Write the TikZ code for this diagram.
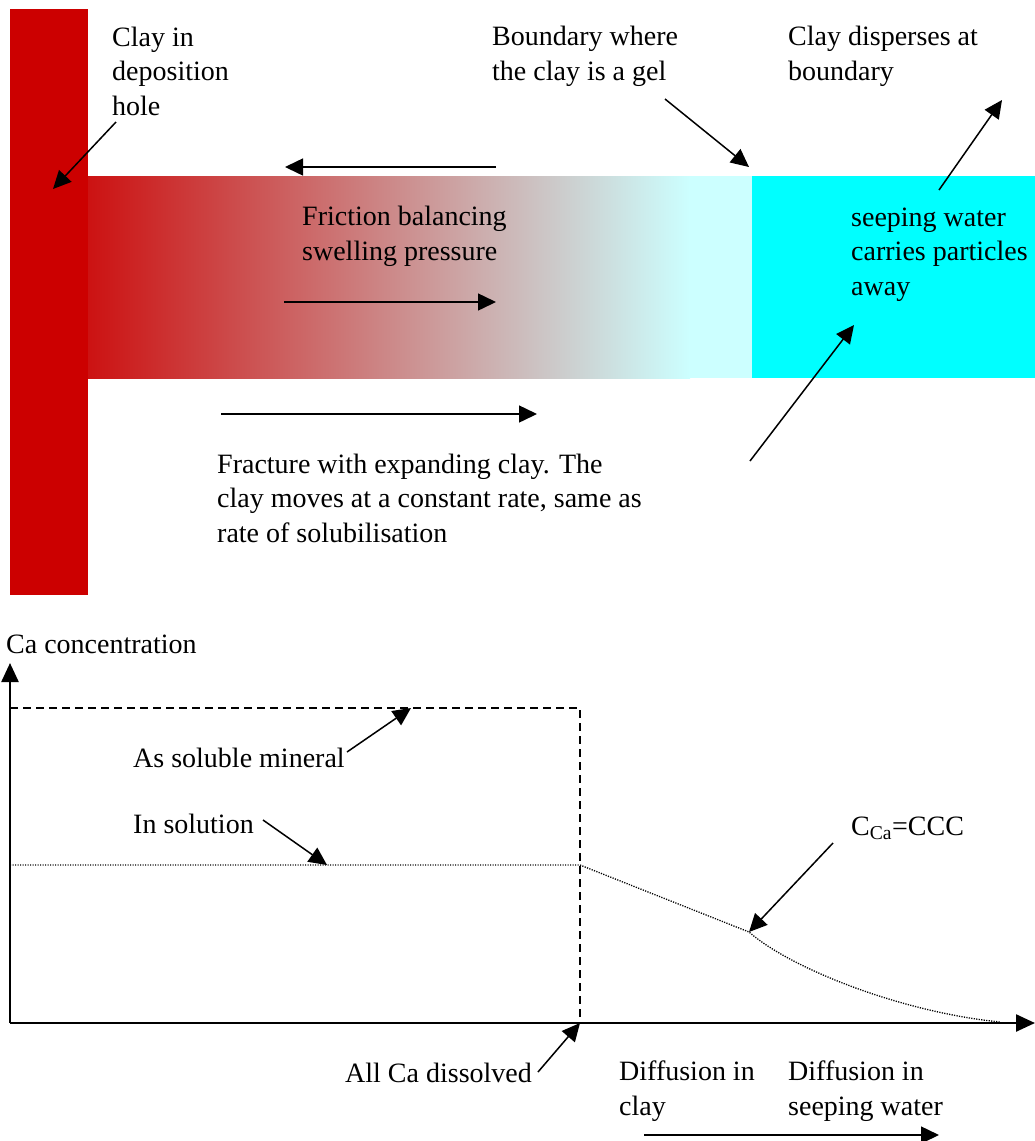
\documentclass[tikz,border=0pt]{standalone}
\usepackage{fontspec}
\setmainfont{Liberation Serif}
\usetikzlibrary{arrows.meta}

\definecolor{clayred}{RGB}{204,0,0}
\definecolor{bandred}{RGB}{204,18,18}
\definecolor{gelcyan}{RGB}{204,255,255}
\definecolor{water}{RGB}{0,255,255}

\begin{document}
\begin{tikzpicture} [ x=1pt, y=-1pt,
		      % base of a node = baseline of its last line
		      every node/.style={inner sep=0pt, anchor=base west, align=left,
		                         font=\fontsize{28}{34.5}\selectfont},
		      pointer/.style={-{Triangle[length=18pt,width=17pt]}, line width=1.5pt},
		      axis/.style={-{Triangle[length=19pt,width=17pt]}, line width=2.4pt},
		      mineral/.style={dash pattern=on 8pt off 5pt, line width=1.3pt},
%		      solution/.style={densely dotted},
		      solution/.style={dash pattern=on 1.2pt off 1.3pt, line width=1.3pt}
		    ]
  \useasboundingbox (0,0) rectangle (1035,1141);

  % deposition hole and fracture
  \fill[clayred] (10,9) rectangle (88,595);
  \shade[left color=bandred, right color=gelcyan] (88,176) rectangle (690,378);
  \fill[gelcyan] (690,176) rectangle (752,378);
  \fill[water] (752,176) rectangle (1035,378);

  \node (hole) at (112,115) {Clay in\\deposition\\hole};
  \node (gel) at (492,80) {Boundary where\\the clay is a gel};
  \node (disp) at (788,80) {Clay disperses at\\boundary};
  \node (fric) at (302,260) {Friction balancing\\swelling pressure};
  \node (seep) at (851,295) {seeping water\\carries particles\\away};
  \node (frac) at (217,542) {Fracture with expanding clay. The\\clay moves at a constant rate, same as\\rate of solubilisation};

  \coordinate (h1) at (116,122);   \coordinate (h2) at (53,189);
  \coordinate (fl1) at (496,167);  \coordinate (fl2) at (285,167);
  \coordinate (fr1) at (284,302);  \coordinate (fr2) at (496,302);
  \coordinate (g1) at (665,99);    \coordinate (g2) at (749,167);
  \coordinate (d1) at (939,190);   \coordinate (d2) at (1002,100);
  \coordinate (s1) at (750,461);   \coordinate (s2) at (854,325);
  \coordinate (m1) at (221,414);   \coordinate (m2) at (537,414);

  \draw[pointer] (h1) -- (h2);
  \draw[pointer] (fl1) -- (fl2);
  \draw[pointer] (fr1) -- (fr2);
  \draw[pointer] (g1) -- (g2);
  \draw[pointer] (d1) -- (d2);
  \draw[pointer] (s1) -- (s2);
  \draw[pointer] (m1) -- (m2);

  % Ca profile
  \coordinate (origin) at (10,1023);
  \coordinate (ytop) at (10,663);
  \coordinate (xend) at (1035,1023);
  \draw[axis] (origin) -- (ytop);
  \draw[axis] (origin) -- (xend);

  \coordinate (mtop) at (10,708);
  \coordinate (mcorner) at (580,708);
  \coordinate (front) at (580,1023);
  \draw[mineral] (mtop) -- (mcorner) -- (front);

  \coordinate (sol) at (10,865);
  \coordinate (solend) at (580,865);
  \coordinate (knee) at (749,932);
  \coordinate (zero) at (1000,1022);
  \draw[solution] (sol) -- (solend) -- (knee) .. controls (790,968) and (900,1012) .. (zero);

  \node (conc) at (6,653) {Ca concentration};
  \node (asmin) at (133,767) {As soluble mineral};
  \node (insol) at (133,833) {In solution};
  \node (ccc) at (851,835) {C\textsubscript{Ca}=CCC};
  \node (dissolved) at (345,1082) {All Ca dissolved};
  \node (difclay) at (619,1115) {Diffusion in\\clay};
  \node (difwater) at (788,1115) {Diffusion in\\seeping water};

  \coordinate (a1) at (347,752);   \coordinate (a2) at (411,708);
  \coordinate (i1) at (263,820);   \coordinate (i2) at (327,865);
  \coordinate (c1) at (833,843);
  \coordinate (all1) at (538,1072);
  \coordinate (dd1) at (644,1135); \coordinate (dd2) at (939,1135);

  \draw[pointer] (a1) -- (a2);
  \draw[pointer] (i1) -- (i2);
  \draw[pointer] (c1) -- (knee);
  \draw[pointer] (all1) -- (front);
  \draw[pointer] (dd1) -- (dd2);
\end{tikzpicture}
\end{document}
